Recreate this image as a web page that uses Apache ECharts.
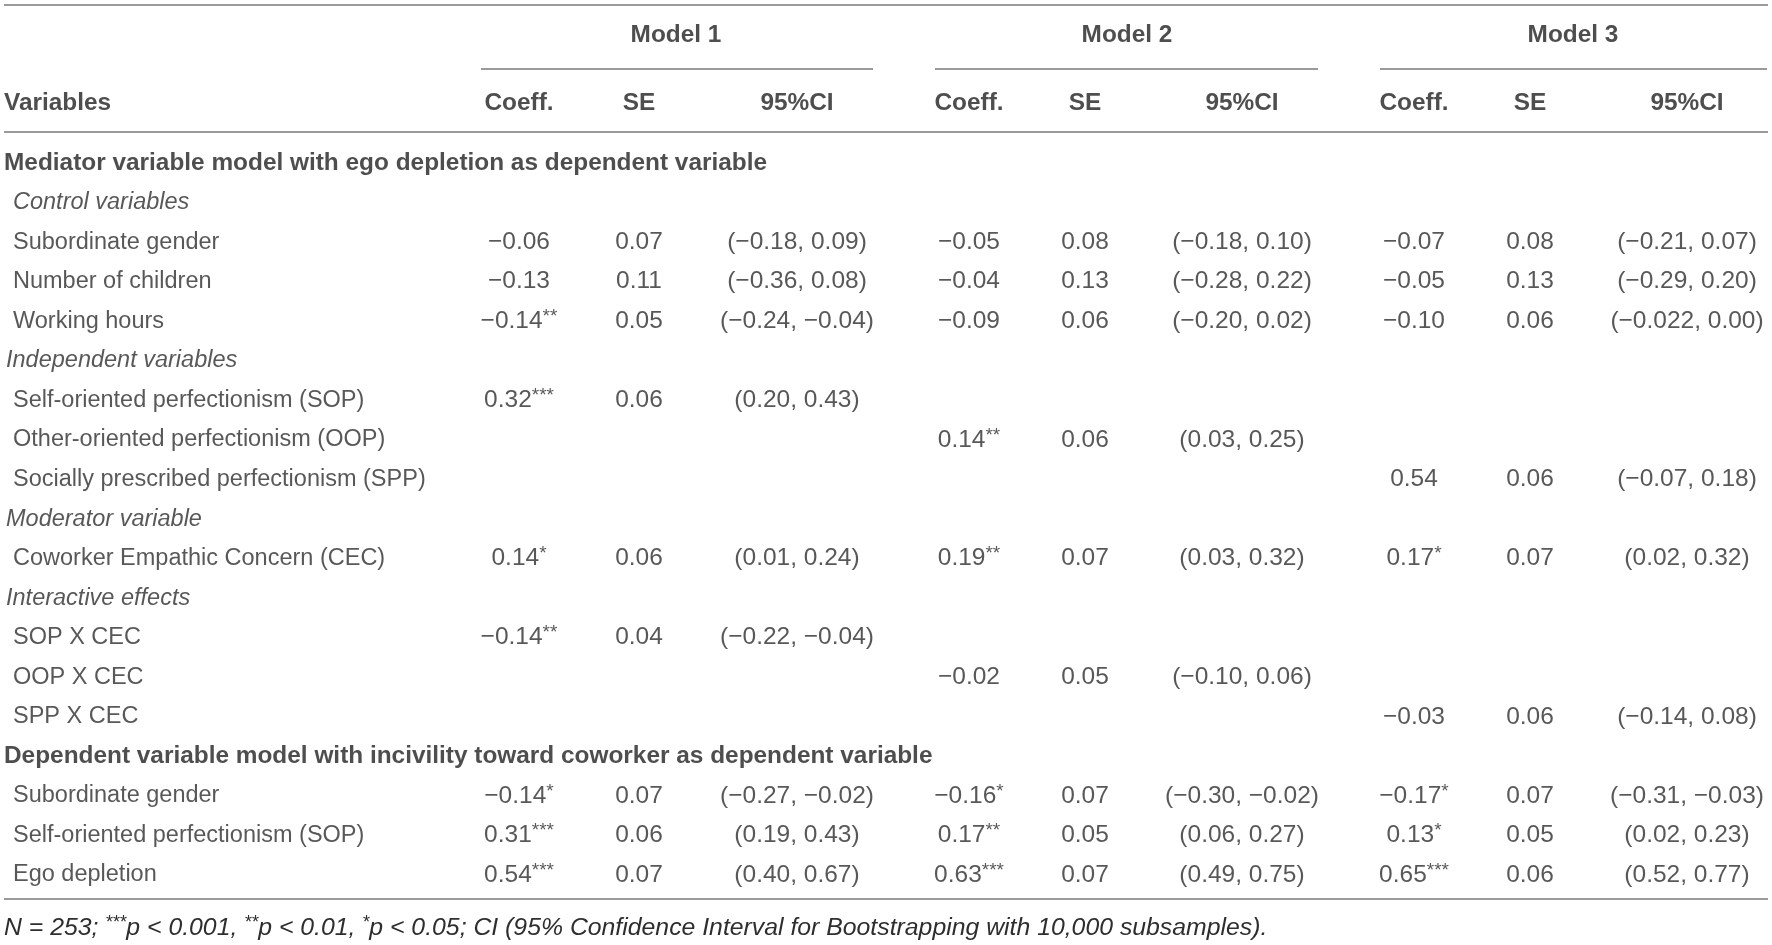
<!DOCTYPE html>
<html>
<head>
<meta charset="utf-8">
<script src="https://cdn.jsdelivr.net/npm/echarts@6/dist/echarts.min.js"></script>
<style>
html,body{margin:0;padding:0;background:#fff;}
#chart{width:1772px;height:945px;}
</style>
</head>
<body>
<div id="chart"></div>
<script>
// ---------- DATA ----------
const modelNames = ['Model 1', 'Model 2', 'Model 3'];
const columnHeaders = ['Coeff.', 'SE', '95%CI'];
const stubHeader = 'Variables';

const rowLabels = [
  'Mediator variable model with ego depletion as dependent variable',
  'Control variables',
  'Subordinate gender',
  'Number of children',
  'Working hours',
  'Independent variables',
  'Self-oriented perfectionism (SOP)',
  'Other-oriented perfectionism (OOP)',
  'Socially prescribed perfectionism (SPP)',
  'Moderator variable',
  'Coworker Empathic Concern (CEC)',
  'Interactive effects',
  'SOP X CEC',
  'OOP X CEC',
  'SPP X CEC',
  'Dependent variable model with incivility toward coworker as dependent variable',
  'Subordinate gender',
  'Self-oriented perfectionism (SOP)',
  'Ego depletion'
];
// section = bold heading, group = italic sub heading, item = indented variable
const rowKinds = ['section','group0','item','item','item','group','item','item','item','group','item','group','item','item','item','section','item','item','item'];

const model1Coeff = ['', '', '−0.06', '−0.13', '−0.14**', '', '0.32***', '', '', '', '0.14*', '', '−0.14**', '', '', '', '−0.14*', '0.31***', '0.54***'];
const model1SE    = ['', '', '0.07', '0.11', '0.05', '', '0.06', '', '', '', '0.06', '', '0.04', '', '', '', '0.07', '0.06', '0.07'];
const model1CI    = ['', '', '(−0.18, 0.09)', '(−0.36, 0.08)', '(−0.24, −0.04)', '', '(0.20, 0.43)', '', '', '', '(0.01, 0.24)', '', '(−0.22, −0.04)', '', '', '', '(−0.27, −0.02)', '(0.19, 0.43)', '(0.40, 0.67)'];

const model2Coeff = ['', '', '−0.05', '−0.04', '−0.09', '', '', '0.14**', '', '', '0.19**', '', '', '−0.02', '', '', '−0.16*', '0.17**', '0.63***'];
const model2SE    = ['', '', '0.08', '0.13', '0.06', '', '', '0.06', '', '', '0.07', '', '', '0.05', '', '', '0.07', '0.05', '0.07'];
const model2CI    = ['', '', '(−0.18, 0.10)', '(−0.28, 0.22)', '(−0.20, 0.02)', '', '', '(0.03, 0.25)', '', '', '(0.03, 0.32)', '', '', '(−0.10, 0.06)', '', '', '(−0.30, −0.02)', '(0.06, 0.27)', '(0.49, 0.75)'];

const model3Coeff = ['', '', '−0.07', '−0.05', '−0.10', '', '', '', '0.54', '', '0.17*', '', '', '', '−0.03', '', '−0.17*', '0.13*', '0.65***'];
const model3SE    = ['', '', '0.08', '0.13', '0.06', '', '', '', '0.06', '', '0.07', '', '', '', '0.06', '', '0.07', '0.05', '0.06'];
const model3CI    = ['', '', '(−0.21, 0.07)', '(−0.29, 0.20)', '(−0.022, 0.00)', '', '', '', '(−0.07, 0.18)', '', '(0.02, 0.32)', '', '', '', '(−0.14, 0.08)', '', '(−0.31, −0.03)', '(0.02, 0.23)', '(0.52, 0.77)'];

const footnoteParts = [
  ['i', 'N = 253; '], ['s', '***'], ['i', 'p < 0.001, '], ['s', '**'], ['i', 'p < 0.01, '],
  ['s', '*'], ['i', 'p < 0.05; CI (95% Confidence Interval for Bootstrapping with 10,000 subsamples).']
];

// ---------- LAYOUT / STYLE ----------
const W = 1772, H = 945;
const FONT = '"Liberation Sans", Arial, Helvetica, sans-serif';
const TXT = '#2e2e2e';
const RULE = '#9a9a9a';
const FS = 23.5, FSV = 24.5, FSB = 24.4, FSS = 19, FSF = 24.8;
const ROW_FIRST = 163, ROW_LAST = 875;
const band = (ROW_LAST - ROW_FIRST) / (rowLabels.length - 1);
const HEAD_Y = [35, 103];
const coeffX = [519, 969, 1414];
const seX = [639, 1085, 1530];
const ciX = [797, 1242, 1687];
const modelX = [676, 1127, 1573];
const spanX = [[481, 873], [935, 1318], [1380, 1767]];
const labelX = { section: 4, group0: 13, group: 6, item: 13 };
const ruleY = { top: 5, span: 69, head: 132, bottom: 899 };

const models = [
  [model1Coeff, model1SE, model1CI],
  [model2Coeff, model2SE, model2CI],
  [model3Coeff, model3SE, model3CI]
];

function richCell(s) {
  const m = s.match(/^(.*?)(\**)$/);
  return m[2] ? '{v|' + m[1] + '}{s|' + m[2] + '}' : '{v|' + m[1] + '}';
}

const richStyles = {
  n: { fontFamily: FONT, fontSize: FS, fontWeight: 'normal', color: TXT, lineHeight: 28 },
  v: { fontFamily: FONT, fontSize: FSV, fontWeight: 'normal', color: TXT, lineHeight: 28 },
  s: { fontFamily: FONT, fontSize: FSS, fontWeight: 'normal', color: TXT, verticalAlign: 'top', lineHeight: 26 },
  b: { fontFamily: FONT, fontSize: FSB, fontWeight: 'bold', color: '#222', lineHeight: 28 },
  it: { fontFamily: FONT, fontSize: FS, fontWeight: 'normal', fontStyle: 'italic', color: TXT, lineHeight: 28 }
};

// body cells
const cellData = [];
models.forEach((cols, mi) => {
  const xs = [coeffX[mi], seX[mi], ciX[mi]];
  cols.forEach((arr, ci) => {
    arr.forEach((v, ri) => {
      if (v) cellData.push({ value: [xs[ci], ri], label: { formatter: richCell(v) } });
    });
  });
});
const stubData = rowLabels.map((t, ri) => {
  const k = rowKinds[ri];
  const style = k === 'section' ? 'b' : (k.indexOf('group') === 0 ? 'it' : 'n');
  return { value: [labelX[k], ri], label: { formatter: '{' + style + '|' + t + '}' } };
});

// header cells
const headData = [];
modelNames.forEach((m, i) => headData.push({ value: [modelX[i], 0], label: { formatter: '{b|' + m + '}' } }));
modelNames.forEach((m, i) => {
  [coeffX[i], seX[i], ciX[i]].forEach((x, j) => headData.push({ value: [x, 1], label: { formatter: '{b|' + columnHeaders[j] + '}' } }));
});
const headStub = [{ value: [4, 1], label: { formatter: '{b|' + stubHeader + '}' } }];

const graphics = [];
function hline(x1, x2, y) {
  graphics.push({ type: 'line', silent: true, shape: { x1: x1, y1: y, x2: x2, y2: y }, style: { stroke: RULE, lineWidth: 2 } });
}
hline(4, 1768, ruleY.top);
spanX.forEach(s => hline(s[0], s[1], ruleY.span));
hline(4, 1768, ruleY.head);
hline(4, 1768, ruleY.bottom);

const baseScatter = {
  type: 'scatter', symbolSize: 0.01, silent: true, animation: false,
  itemStyle: { color: 'transparent' }, emphasis: { disabled: true }
};

const option = {
  backgroundColor: '#fff',
  animation: false,
  title: {
    left: 4, top: 914, padding: 0,
    text: footnoteParts.map(p => '{' + p[0] + '|' + p[1] + '}').join(''),
    textStyle: {
      fontWeight: 'normal',
      rich: {
        i: { fontFamily: FONT, fontSize: FSF, fontWeight: 'normal', fontStyle: 'italic', color: TXT, lineHeight: 28 },
        s: { fontFamily: FONT, fontSize: 18, fontWeight: 'normal', fontStyle: 'italic', color: TXT, verticalAlign: 'top', lineHeight: 26 }
      }
    }
  },
  grid: [
    { left: 0, right: 0, top: ROW_FIRST - band / 2, height: band * rowLabels.length },
    { left: 0, right: 0, top: HEAD_Y[0] - (HEAD_Y[1] - HEAD_Y[0]) / 2, height: (HEAD_Y[1] - HEAD_Y[0]) * 2 }
  ],
  xAxis: [
    { type: 'value', min: 0, max: W, gridIndex: 0, show: false },
    { type: 'value', min: 0, max: W, gridIndex: 1, show: false }
  ],
  yAxis: [
    { type: 'category', data: rowLabels.map((r, i) => i), inverse: true, gridIndex: 0, show: false },
    { type: 'category', data: ['models', 'columns'], inverse: true, gridIndex: 1, show: false }
  ],
  series: [
    Object.assign({}, baseScatter, {
      xAxisIndex: 0, yAxisIndex: 0, data: cellData,
      label: { show: true, position: 'inside', align: 'center', verticalAlign: 'middle', rich: richStyles }
    }),
    Object.assign({}, baseScatter, {
      xAxisIndex: 0, yAxisIndex: 0, data: stubData,
      label: { show: true, position: 'right', distance: 0, rich: richStyles }
    }),
    Object.assign({}, baseScatter, {
      xAxisIndex: 1, yAxisIndex: 1, data: headData,
      label: { show: true, position: 'inside', align: 'center', verticalAlign: 'middle', rich: richStyles }
    }),
    Object.assign({}, baseScatter, {
      xAxisIndex: 1, yAxisIndex: 1, data: headStub,
      label: { show: true, position: 'right', distance: 0, rich: richStyles }
    })
  ],
  graphic: graphics
};

const chart = echarts.init(document.getElementById('chart'), null, { renderer: 'canvas' });
chart.setOption(option);
</script>
</body>
</html>
